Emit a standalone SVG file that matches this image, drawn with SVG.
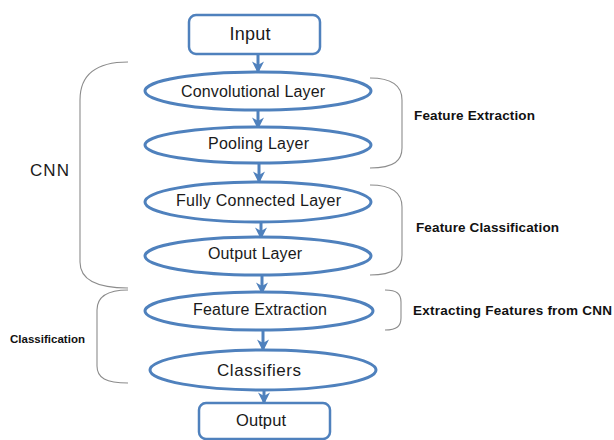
<svg xmlns="http://www.w3.org/2000/svg" width="614" height="440" viewBox="0 0 614 440">
<defs>
<style>
.node{fill:#fff;stroke:#4F81BD;stroke-width:3}
.box{fill:#fff;stroke:#4F81BD;stroke-width:2.5}
.t{font-family:"Liberation Sans",Arial,sans-serif;font-size:16px;fill:#1a1a1a;text-anchor:middle;dominant-baseline:central}
.lb{font-family:"Liberation Sans",Arial,sans-serif;font-size:13.5px;font-weight:bold;fill:#111;dominant-baseline:central}
.brace{fill:none;stroke:#8c8c8c;stroke-width:1.1}
.conn{stroke:#4F81BD;stroke-width:3;fill:none;marker-end:url(#ah)}
</style>
<marker id="ah" viewBox="0 0 10 10" refX="8" refY="5" markerWidth="4" markerHeight="4" orient="auto" markerUnits="strokeWidth">
<path d="M0,0 L10,5 L0,10 L3,5 Z" fill="#4F81BD"/>
</marker>
</defs>
<g id="connectors">
<line class="conn" x1="258" y1="54" x2="258" y2="71"/>
<line class="conn" x1="258" y1="110" x2="258" y2="127"/>
<line class="conn" x1="259" y1="163" x2="259" y2="181"/>
<line class="conn" x1="261" y1="222" x2="261" y2="237"/>
<line class="conn" x1="262" y1="275" x2="262" y2="292"/>
<line class="conn" x1="263" y1="330" x2="263" y2="349"/>
<line class="conn" x1="264" y1="390" x2="264" y2="402"/>
</g>
<g id="braces">
<path class="brace" d="M128,62 C95,62 80,75 80,100 L80,262 C80,280 98,288 128,288"/>
<path class="brace" d="M128,290 C106,290 97,297 97,310 L97,366 C97,378 106,383 128,383"/>
<path class="brace" d="M370,78 C395,78 402,88 402,100 L402,148 C402,160 395,168 370,168"/>
<path class="brace" d="M370,185 C395,185 402,195 402,207 L402,255 C402,267 395,275 370,275"/>
<path class="brace" d="M385,290 C397,290 401,294 401,302 L401,318 C401,326 397,330 385,330"/>
</g>
<g id="input"><rect class="box" x="189" y="15" width="131" height="39" rx="7"/><text class="t" x="250" y="34" style="font-size:18px" textLength="41">Input</text></g>
<g id="conv"><ellipse class="node" cx="258" cy="91" rx="113" ry="19"/><text class="t" x="253" y="91" textLength="144">Convolutional Layer</text></g>
<g id="pool"><ellipse class="node" cx="258" cy="145" rx="113" ry="18"/><text class="t" x="258.5" y="143" textLength="101">Pooling Layer</text></g>
<g id="fc"><ellipse class="node" cx="258" cy="202" rx="113" ry="20"/><text class="t" x="258.5" y="200" textLength="165">Fully Connected Layer</text></g>
<g id="outlayer"><ellipse class="node" cx="258" cy="256" rx="113" ry="19"/><text class="t" x="255" y="253" textLength="94">Output Layer</text></g>
<g id="featext"><ellipse class="node" cx="259" cy="311" rx="114" ry="19"/><text class="t" x="260" y="309" textLength="134">Feature Extraction</text></g>
<g id="classifiers"><ellipse class="node" cx="263" cy="370" rx="113" ry="20"/><text class="t" x="259" y="370" style="font-size:17px" textLength="84">Classifiers</text></g>
<g id="output"><rect class="box" x="199" y="403" width="131" height="36" rx="7"/><text class="t" x="261" y="420" style="font-size:16.5px" textLength="50">Output</text></g>
<g id="labels">
<text class="t" x="49.5" y="170" style="font-size:17px" textLength="39">CNN</text>
<text class="lb" x="10" y="339" style="font-size:11.5px" textLength="75">Classification</text>
<text class="lb" x="414" y="115" textLength="121">Feature Extraction</text>
<text class="lb" x="416" y="227" textLength="143">Feature Classification</text>
<text class="lb" x="413" y="310" textLength="199">Extracting Features from CNN</text>
</g>
</svg>
